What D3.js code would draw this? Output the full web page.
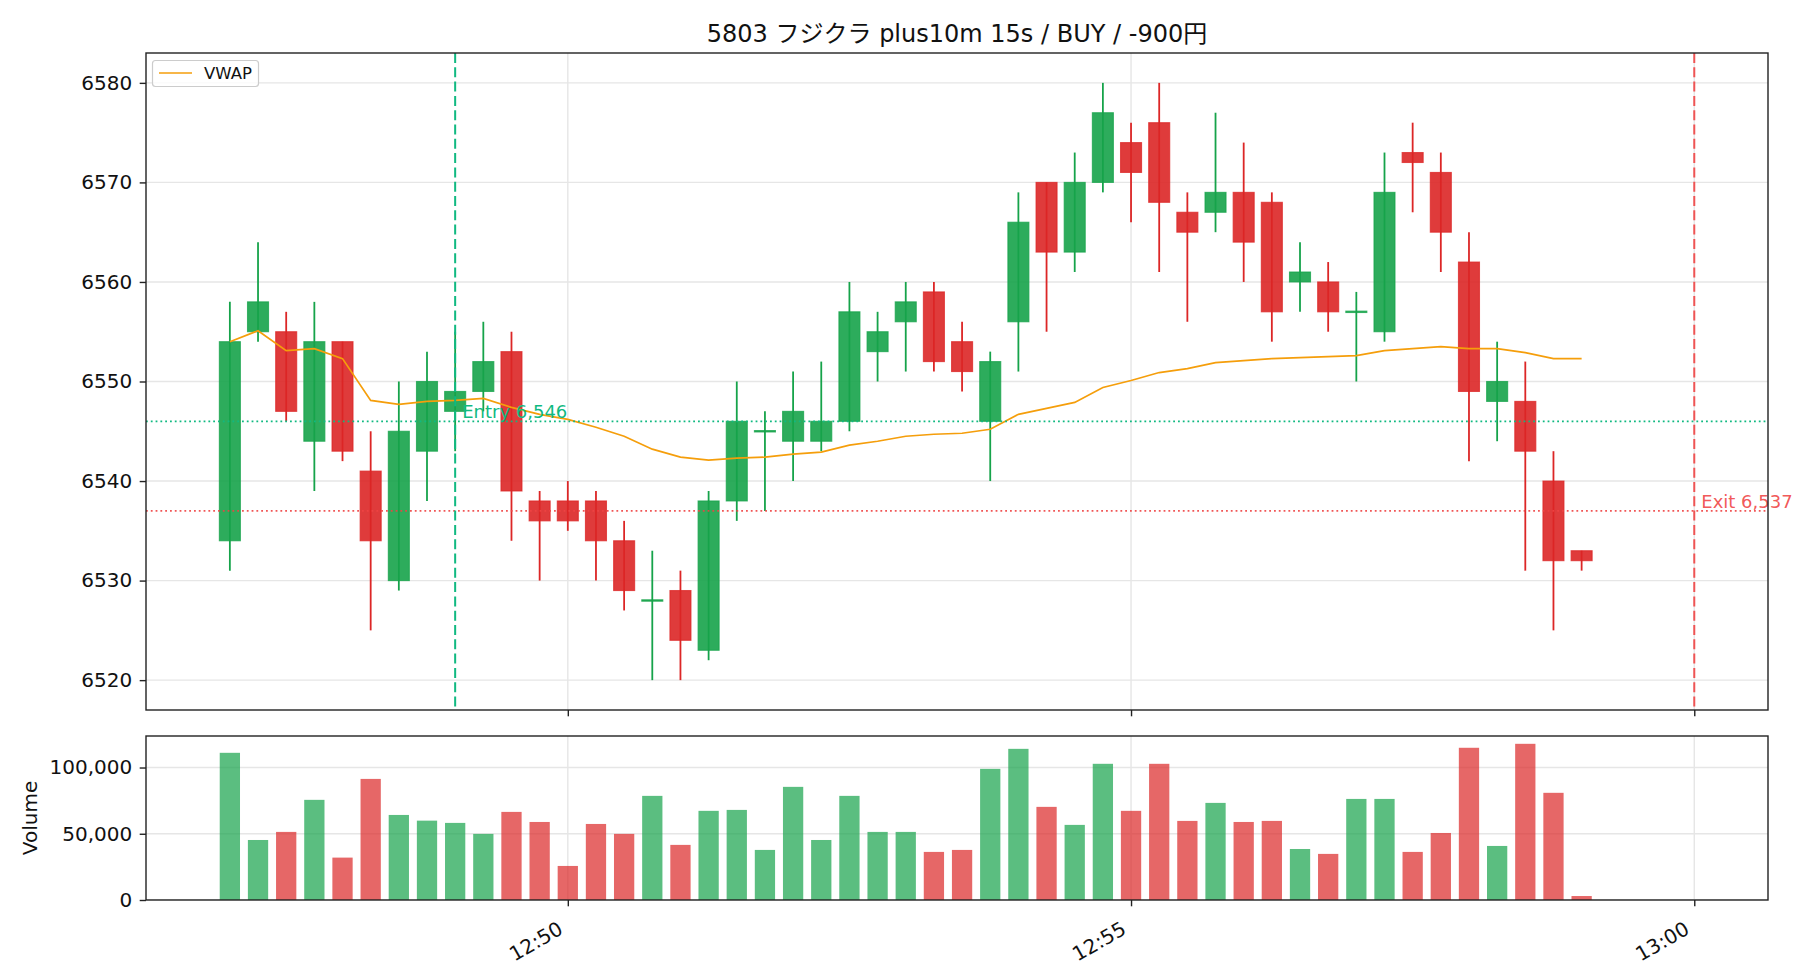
<!DOCTYPE html>
<html><head><meta charset="utf-8">
<script src="https://cdn.jsdelivr.net/npm/d3@7"></script>
<style>
body{margin:0;background:#fff;}
text{font-family:"DejaVu Sans","Noto Sans CJK JP",sans-serif;fill:#111;}
</style>
</head><body>
<svg id="chart" width="1820" height="980"></svg>
<script>
// ---------------- data ----------------
const times = ["12:47:00","12:47:15","12:47:30","12:47:45","12:48:00","12:48:15","12:48:30","12:48:45",
  "12:49:00","12:49:15","12:49:30","12:49:45","12:50:00","12:50:15","12:50:30","12:50:45",
  "12:51:00","12:51:15","12:51:30","12:51:45","12:52:00","12:52:15","12:52:30","12:52:45",
  "12:53:00","12:53:15","12:53:30","12:53:45","12:54:00","12:54:15","12:54:30","12:54:45",
  "12:55:00","12:55:15","12:55:30","12:55:45","12:56:00","12:56:15","12:56:30","12:56:45",
  "12:57:00","12:57:15","12:57:30","12:57:45","12:58:00","12:58:15","12:58:30","12:58:45","12:59:00"];
const opens  = [6534,6555,6555,6544,6554,6541,6530,6543,6547,6549,6553,6538,6538,6538,6534,6528,6529,6523,6538,6545,6544,6544,6546,6553,6556,6559,6554,6546,6556,6570,6563,6570,6574,6576,6567,6567,6569,6568,6560,6560,6557,6555,6573,6571,6562,6548,6548,6540,6533];
const highs  = [6558,6564,6557,6558,6554,6545,6550,6553,6555,6556,6555,6539,6540,6539,6536,6533,6531,6539,6550,6547,6551,6552,6560,6557,6560,6560,6556,6553,6569,6570,6573,6580,6576,6580,6569,6577,6574,6569,6564,6562,6559,6573,6576,6573,6565,6554,6552,6543,6533];
const lows   = [6531,6554,6546,6539,6542,6525,6529,6538,6543,6547,6534,6530,6535,6530,6527,6520,6520,6522,6536,6537,6540,6543,6545,6550,6551,6551,6549,6540,6551,6555,6561,6569,6566,6561,6556,6565,6560,6554,6557,6555,6550,6554,6567,6561,6542,6544,6531,6525,6531];
const closes = [6554,6558,6547,6554,6543,6534,6545,6550,6549,6552,6539,6536,6536,6534,6529,6528,6524,6538,6546,6545,6547,6546,6557,6555,6558,6552,6551,6552,6566,6563,6570,6577,6571,6568,6565,6569,6564,6557,6561,6557,6557,6569,6572,6565,6549,6550,6543,6532,6532];
const vwap   = [6554.0,6555.1,6553.1,6553.3,6552.3,6548.1,6547.7,6548.0,6548.1,6548.3,6547.4,6546.7,6546.2,6545.4,6544.5,6543.2,6542.4,6542.1,6542.3,6542.4,6542.7,6542.9,6543.6,6544.0,6544.5,6544.7,6544.8,6545.2,6546.7,6547.3,6547.9,6549.4,6550.1,6550.9,6551.3,6551.9,6552.1,6552.3,6552.4,6552.5,6552.6,6553.1,6553.3,6553.5,6553.3,6553.3,6552.9,6552.3,6552.3];
const volumes = [111100,45300,51400,75600,32000,91400,64200,59900,58200,49900,66500,58900,25700,57400,49900,78600,41600,67300,68000,37800,85400,45300,78600,51400,51400,36300,37800,99000,114100,70300,56700,102800,67300,102800,59700,73300,58900,59700,38500,34800,76300,76300,36300,50600,114900,40800,117900,80900,3000];
const entryTime = "12:49:00", entryPrice = 6546;
const exitTime = "13:00:00", exitPrice = 6537;
const priceTicks = [6520,6530,6540,6550,6560,6570,6580];
const volumeTicks = [0,50000,100000];
const timeTicks = ["12:50:00","12:55:00","13:00:00"];
const timeTickLabels = ["12:50","12:55","13:00"];
const titleText = "5803 フジクラ plus10m 15s / BUY / -900円";
const legendLabel = "VWAP";

// ---------------- layout / style ----------------
const W = 1820, H = 980;
const L = 146, R = 1768;
const mainTop = 53, mainBot = 710;
const volTop = 736, volBot = 900;
const GREEN = "#16a34a", RED = "#dc2626";
const ENTRY_C = "#10b981", EXIT_C = "#ef4444", VWAP_C = "#f59e0b";
const GRID_C = "#e6e6e6";
const BODY_W = 11.2, VOL_W = 10.8; // seconds
const TICK_FS = "20px";

const parse = d3.timeParse("%H:%M:%S");
const T = times.map(parse);
const data = T.map((t,i)=>({t, o:opens[i], h:highs[i], l:lows[i], c:closes[i], v:volumes[i], w:vwap[i]}));
const tEntry = parse(entryTime), tExit = parse(exitTime);

// x autoscale like matplotlib (5% margin)
const x0 = +T[0] - VOL_W/2*1000, x1 = +tExit;
const pad = (x1-x0)*0.05;
const x = d3.scaleTime().domain([new Date(x0-pad), new Date(x1+pad)]).range([L,R]);

const pMin = d3.min(lows), pMax = d3.max(highs), pPad = (pMax-pMin)*0.05;
const y = d3.scaleLinear().domain([pMin-pPad, pMax+pPad]).range([mainBot, mainTop]);
const yv = d3.scaleLinear().domain([0, d3.max(volumes)*1.05]).range([volBot, volTop]);

const svg = d3.select("#chart");
svg.append("rect").attr("width",W).attr("height",H).attr("fill","#fff");

const px = s => x(new Date(+T[0]+s*1000)) - x(T[0]);

const defs = svg.append("defs");
defs.append("clipPath").attr("id","clipMain").append("rect").attr("x",L).attr("y",mainTop).attr("width",R-L).attr("height",mainBot-mainTop);
defs.append("clipPath").attr("id","clipVol").append("rect").attr("x",L).attr("y",volTop).attr("width",R-L).attr("height",volBot-volTop);

function styleAxis(g){
  g.select(".domain").remove();
  g.selectAll(".tick line").attr("stroke","#222").attr("stroke-width",1.4);
  g.selectAll(".tick text").style("font-size",TICK_FS).style("fill","#111").attr("font-family",null);
}

// ---------- main panel ----------
const gMain = svg.append("g");
const gGrid = gMain.append("g").attr("clip-path","url(#clipMain)");
gGrid.selectAll("line.h").data(priceTicks).join("line")
  .attr("x1",L).attr("x2",R).attr("y1",d=>y(d)).attr("y2",d=>y(d))
  .attr("stroke",GRID_C).attr("stroke-width",1.4);
gGrid.selectAll("line.v").data(timeTicks.map(parse)).join("line")
  .attr("x1",d=>x(d)).attr("x2",d=>x(d)).attr("y1",mainTop).attr("y2",mainBot)
  .attr("stroke",GRID_C).attr("stroke-width",1.4);

const gC = gMain.append("g").attr("clip-path","url(#clipMain)");
gC.selectAll("line.wick").data(data).join("line")
  .attr("x1",d=>x(d.t)).attr("x2",d=>x(d.t))
  .attr("y1",d=>y(d.h)).attr("y2",d=>y(d.l))
  .attr("stroke",d=>d.c>=d.o?GREEN:RED).attr("stroke-width",1.8);
const bw = px(BODY_W);
const MIN_H = 1.4;
gC.selectAll("rect.body").data(data).join("rect")
  .attr("x",d=>x(d.t)-bw/2)
  .attr("y",d=>{const h=Math.abs(y(d.o)-y(d.c)); return h<MIN_H ? y(d.o)-MIN_H/2 : y(Math.max(d.o,d.c));})
  .attr("width",bw)
  .attr("height",d=>Math.max(MIN_H, Math.abs(y(d.o)-y(d.c))))
  .attr("fill",d=>d.c>=d.o?GREEN:RED).attr("fill-opacity",0.9)
  .attr("stroke",d=>d.c>=d.o?GREEN:RED).attr("stroke-opacity",0.75).attr("stroke-width",1.1);

gC.append("path").datum(data)
  .attr("d", d3.line().x(d=>x(d.t)).y(d=>y(d.w)))
  .attr("fill","none").attr("stroke",VWAP_C).attr("stroke-width",1.7);

gC.append("line").attr("x1",L).attr("x2",R).attr("y1",y(entryPrice)).attr("y2",y(entryPrice))
  .attr("stroke",ENTRY_C).attr("stroke-width",1.8).attr("stroke-dasharray","1.8,3");
gC.append("line").attr("x1",L).attr("x2",R).attr("y1",y(exitPrice)).attr("y2",y(exitPrice))
  .attr("stroke",EXIT_C).attr("stroke-width",1.8).attr("stroke-dasharray","1.8,3").attr("stroke-opacity",0.9);
gC.append("line").attr("x1",x(tEntry)).attr("x2",x(tEntry)).attr("y1",mainTop).attr("y2",mainBot)
  .attr("stroke",ENTRY_C).attr("stroke-width",2).attr("stroke-dasharray","10,4.3");
gC.append("line").attr("x1",x(tExit)).attr("x2",x(tExit)).attr("y1",mainTop).attr("y2",mainBot)
  .attr("stroke",EXIT_C).attr("stroke-width",2).attr("stroke-dasharray","10,4.3").attr("stroke-opacity",0.9);

const fmtP = d3.format(",");
gMain.append("text").attr("x",x(tEntry)+7).attr("y",y(entryPrice)-3)
  .text("Entry "+fmtP(entryPrice)).style("font-size","18px").style("fill",ENTRY_C);
gMain.append("text").attr("x",x(tExit)+7).attr("y",y(exitPrice)-3)
  .text("Exit "+fmtP(exitPrice)).style("font-size","18px").style("fill",EXIT_C).style("fill-opacity",0.9);

const yAxis = d3.axisLeft(y).tickValues(priceTicks).tickFormat(d3.format("d")).tickSize(6.3).tickPadding(7.5);
const gy = gMain.append("g").attr("transform",`translate(${L},0)`).call(yAxis);
const xAxisMain = d3.axisBottom(x).tickValues(timeTicks.map(parse)).tickFormat("").tickSize(6.3);
const gxm = gMain.append("g").attr("transform",`translate(0,${mainBot})`).call(xAxisMain);
styleAxis(gy); styleAxis(gxm);
gMain.append("rect").attr("x",L).attr("y",mainTop).attr("width",R-L).attr("height",mainBot-mainTop)
  .attr("fill","none").attr("stroke","#222").attr("stroke-width",1.4);

// legend
const lg = gMain.append("g");
lg.append("rect").attr("x",152.5).attr("y",60.5).attr("width",106).attr("height",26).attr("rx",3)
  .attr("fill","#fff").attr("fill-opacity",0.8).attr("stroke","#cccccc").attr("stroke-width",1.2);
lg.append("line").attr("x1",159).attr("x2",192).attr("y1",73).attr("y2",73).attr("stroke",VWAP_C).attr("stroke-width",1.7);
lg.append("text").attr("x",204).attr("y",73).attr("dy","0.36em").text(legendLabel).style("font-size","16.5px");

// title
svg.append("text").attr("x",(L+R)/2).attr("y",42).attr("text-anchor","middle")
  .text(titleText).style("font-size","24px");

// ---------- volume panel ----------
const gVol = svg.append("g");
const gvGrid = gVol.append("g").attr("clip-path","url(#clipVol)");
gvGrid.selectAll("line.h").data(volumeTicks).join("line")
  .attr("x1",L).attr("x2",R).attr("y1",d=>yv(d)).attr("y2",d=>yv(d))
  .attr("stroke",GRID_C).attr("stroke-width",1.4);
gvGrid.selectAll("line.v").data(timeTicks.map(parse)).join("line")
  .attr("x1",d=>x(d)).attr("x2",d=>x(d)).attr("y1",volTop).attr("y2",volBot)
  .attr("stroke",GRID_C).attr("stroke-width",1.4);
const vw = px(VOL_W);
gVol.append("g").attr("clip-path","url(#clipVol)").selectAll("rect").data(data).join("rect")
  .attr("x",d=>x(d.t)-vw/2).attr("y",d=>yv(d.v)).attr("width",vw).attr("height",d=>yv(0)-yv(d.v))
  .attr("fill",d=>d.c>=d.o?GREEN:RED).attr("fill-opacity",0.7);

const yvAxis = d3.axisLeft(yv).tickValues(volumeTicks).tickFormat(d3.format(",")).tickSize(6.3).tickPadding(7.5);
const gyv = gVol.append("g").attr("transform",`translate(${L},0)`).call(yvAxis);
const xAxis = d3.axisBottom(x).tickValues(timeTicks.map(parse)).tickFormat((d,i)=>timeTickLabels[i]).tickSize(6.3).tickPadding(6);
const gx = gVol.append("g").attr("transform",`translate(0,${volBot})`).call(xAxis);
styleAxis(gyv); styleAxis(gx);
gx.selectAll(".tick text").attr("text-anchor","end").attr("y",0).attr("dy",0)
  .attr("transform","translate(-4,33) rotate(-30)");
gVol.append("rect").attr("x",L).attr("y",volTop).attr("width",R-L).attr("height",volBot-volTop)
  .attr("fill","none").attr("stroke","#222").attr("stroke-width",1.4);
svg.append("text").attr("transform",`translate(30,${(volTop+volBot)/2}) rotate(-90)`)
  .attr("text-anchor","middle").attr("dominant-baseline","central").text("Volume").style("font-size","20px");
</script>
</body></html>
